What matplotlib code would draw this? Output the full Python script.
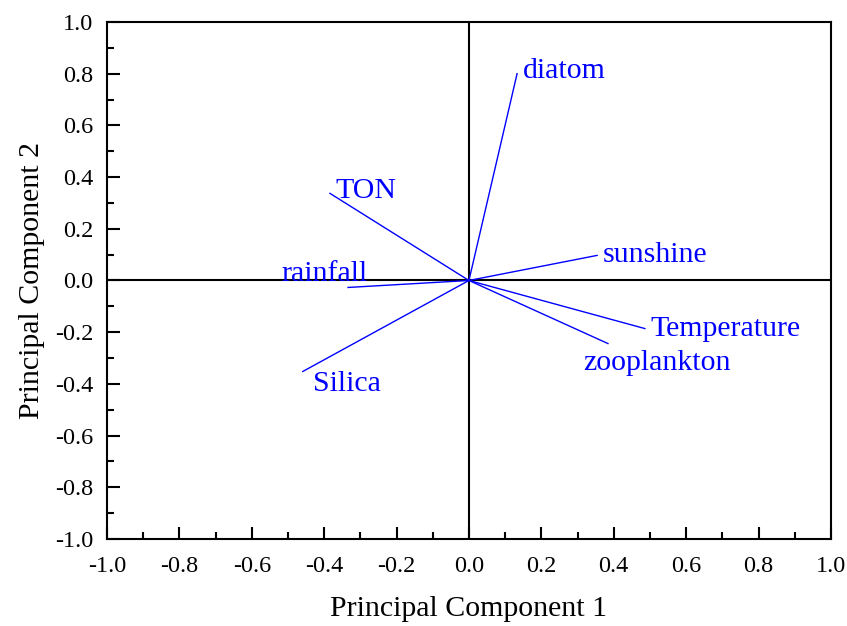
import numpy as np
import matplotlib.pyplot as plt
from matplotlib.ticker import MultipleLocator

plt.rcParams['font.family'] = ['Liberation Serif', 'DejaVu Serif']

# Loadings (PC1, PC2)
variables = ["diatom", "TON", "rainfall", "Silica", "sunshine", "Temperature", "zooplankton"]
pc1 = [0.133, -0.384, -0.334, -0.459, 0.354, 0.486, 0.384]
pc2 = [0.800, 0.337, -0.027, -0.352, 0.097, -0.186, -0.244]

# label offsets in points and horizontal alignment
offsets = [(4, 2, "left"), (4, 2, "left"), (-17, 10, "center"), (7, -9, "left"),
           (4, 0, "left"), (4, -0.5, "left"), (35, -14, "center")]

fig = plt.figure(figsize=(8.47, 6.26), dpi=100)
ax = fig.add_axes([0.1263, 0.139, 0.8547, 0.8259])

ax.axhline(0, color="black", lw=1.5, zorder=1)
ax.axvline(0, color="black", lw=1.5, zorder=1)

for name, x, y, (dx, dy, ha) in zip(variables, pc1, pc2, offsets):
    ax.plot([0, x], [0, y], color="blue", lw=1, zorder=2)
    ax.annotate(name, (x, y), xytext=(dx, dy), textcoords="offset points",
                ha=ha, va="center", color="blue", fontsize=21.5)

ax.set_xlim(-1, 1)
ax.set_ylim(-1, 1)
ax.xaxis.set_major_locator(MultipleLocator(0.2))
ax.xaxis.set_minor_locator(MultipleLocator(0.1))
ax.yaxis.set_major_locator(MultipleLocator(0.2))
ax.yaxis.set_minor_locator(MultipleLocator(0.1))
ax.xaxis.set_major_formatter(lambda v, p: f"{v:.1f}")
ax.yaxis.set_major_formatter(lambda v, p: f"{v:.1f}")
ax.tick_params(which="both", direction="in", top=False, right=False, width=1.5, labelsize=17.5)
ax.tick_params(which="major", length=9)
ax.tick_params(which="minor", length=5)
ax.tick_params(axis="x", pad=12)
ax.tick_params(axis="y", pad=10)
for s in ax.spines.values():
    s.set_linewidth(1.5)

ax.set_xlabel("Principal Component 1", fontsize=21.5, labelpad=14)
ax.set_ylabel("Principal Component 2", fontsize=21.5, labelpad=7)

fig.savefig("out.png", dpi=100)
